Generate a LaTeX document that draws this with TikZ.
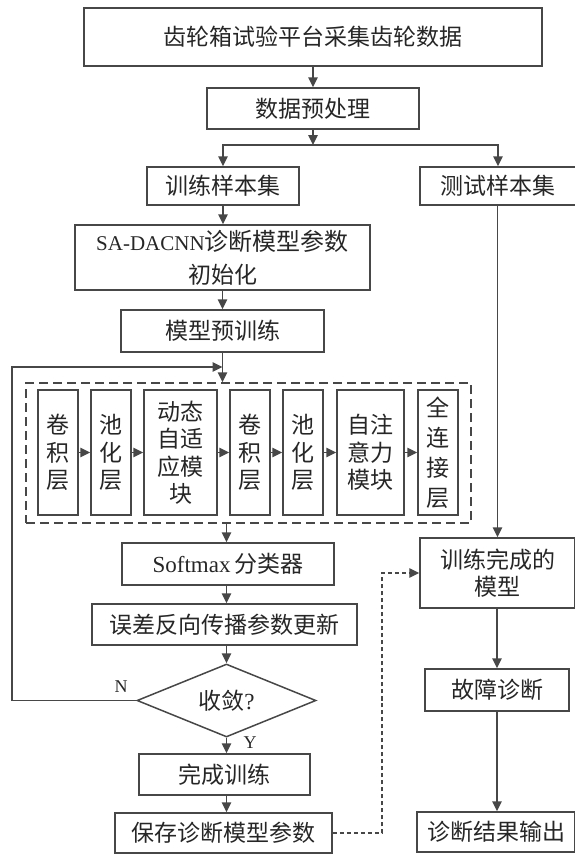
\documentclass[tikz,border=0pt]{standalone}
\usepackage{fontspec}
\setmainfont{Liberation Serif}
\newfontfamily\cjk{Noto Sans CJK SC}
\newfontfamily\lat{Liberation Serif}
\usetikzlibrary{arrows.meta,shapes.geometric,calc}
\definecolor{lc}{HTML}{474747}
\definecolor{tc}{HTML}{262626}
\begin{document}
\begin{tikzpicture}[x=1pt,y=-1pt,
  box/.style={draw=lc, line width=1.5pt, inner sep=0pt, align=center, text=tc,
    font=\cjk\fontsize{23}{27.5}\selectfont},
  arr/.style={draw=lc, line width=1.5pt, -{Triangle[length=10pt,width=9.5pt]}},
  ln/.style={draw=lc, line width=1.5pt},
  dbox/.style={draw=lc, line width=1.5pt, dash pattern=on 9pt off 5pt},
  darr/.style={draw=lc, line width=1.3pt, dash pattern=on 4pt off 3pt, -{Triangle[length=10pt,width=9.5pt]}},
  lab/.style={text=tc, font=\lat\fontsize{18}{20}\selectfont, inner sep=0pt}]
\useasboundingbox (0,0) rectangle (575,854);
% left column
\node[box, minimum width=458pt, minimum height=58pt] (top) at (313,37) {齿轮箱试验平台采集齿轮数据};
\node[box, minimum width=212pt, minimum height=41pt] (pre) at (313,108.5) {数据预处理};
\coordinate (split) at (313,145);
\node[box, minimum width=152pt, minimum height=38pt] (train) at (223,186) {训练样本集};
\node[box, minimum width=156pt, minimum height=38pt] (test) at (498,186) {测试样本集};
\node[box, minimum width=295pt, minimum height=65pt, font=\cjk\fontsize{24}{33}\selectfont] (init) at (222.5,257.5)
  {{\lat\fontsize{21}{33}\selectfont SA-DACNN}诊断模型参数\\{\fontsize{23}{33}\selectfont 初始化}};
\node[box, minimum width=203pt, minimum height=42pt] (pretrain) at (222.5,331) {模型预训练};
\coordinate (loopc) at (12,367);
\node[dbox, minimum width=445pt, minimum height=140pt, inner sep=0pt] (frame) at (248.5,453) {};
\node[box, minimum width=40pt, minimum height=125pt] (b1) at (58,452.5) {卷\\积\\层};
\node[box, minimum width=40pt, minimum height=125pt] (b2) at (111,452.5) {池\\化\\层};
\node[box, minimum width=73pt, minimum height=125pt] (b3) at (180.5,452.5) {动态\\自适\\应模\\块};
\node[box, minimum width=40pt, minimum height=125pt] (b4) at (250,452.5) {卷\\积\\层};
\node[box, minimum width=40pt, minimum height=125pt] (b5) at (303,452.5) {池\\化\\层};
\node[box, minimum width=67pt, minimum height=125pt] (b6) at (370.5,452.5) {自注\\意力\\模块};
\node[box, minimum width=40pt, minimum height=125pt, font=\cjk\fontsize{23}{30}\selectfont] (b7) at (438,452.5) {全\\连\\接\\层};
\node[box, minimum width=212pt, minimum height=42pt] (soft) at (228,564) {{\lat Softmax}\,分类器};
\node[box, minimum width=265pt, minimum height=41pt] (err) at (224.5,624.5) {误差反向传播参数更新};
\node[box, shape=diamond, aspect=2.45, minimum width=179pt, minimum height=73pt] (dia) at (226.5,700.5) {收敛{\lat ?}};
\node[lab] (nlab) at (121,687) {N};
\node[lab] (ylab) at (250,743) {Y};
\node[box, minimum width=171pt, minimum height=41pt] (done) at (224.5,774.5) {完成训练};
\node[box, minimum width=217pt, minimum height=40pt] (save) at (223.5,833) {保存诊断模型参数};
% right column
\node[box, minimum width=155pt, minimum height=70pt] (model) at (497.5,573) {训练完成的\\模型};
\node[box, minimum width=144pt, minimum height=42pt] (fault) at (497,690) {故障诊断};
\node[box, minimum width=158pt, minimum height=40pt] (out) at (496,832) {诊断结果输出};
\coordinate (dcorner) at (382,700);
% connectors
\draw[arr] (top.south) -- (pre.north);
\draw[arr] (pre.south) -- (split);
\draw[arr] (split) -| (train.north);
\draw[arr] (split) -| (test.north);
\draw[arr] (train.south) -- (train.south |- init.north);
\draw[arr] (init.south) -- (init.south |- pretrain.north);
\draw[arr] (pretrain.south) -- (pretrain.south |- frame.north);
\draw[arr] (dia.west) -| (loopc) -- (pretrain.south |- loopc);
\draw[arr] (b1.east) -- (b2.west);
\draw[arr] (b2.east) -- (b3.west);
\draw[arr] (b3.east) -- (b4.west);
\draw[arr] (b4.east) -- (b5.west);
\draw[arr] (b5.east) -- (b6.west);
\draw[arr] (b6.east) -- (b7.west);
\draw[arr] (dia.north |- frame.south) -- (dia.north |- soft.north);
\draw[arr] (dia.north |- soft.south) -- (dia.north |- err.north);
\draw[arr] (dia.north |- err.south) -- (dia.north);
\draw[arr] (dia.south) -- (dia.south |- done.north);
\draw[arr] (dia.south |- done.south) -- (dia.south |- save.north);
\draw[darr] (save.east) -| (dcorner) |- (model.west);
\draw[arr] (model.north |- test.south) -- (model.north);
\draw[arr] (fault.north |- model.south) -- (fault.north);
\draw[arr] (fault.south) -- (fault.south |- out.north);
\end{tikzpicture}
\end{document}
